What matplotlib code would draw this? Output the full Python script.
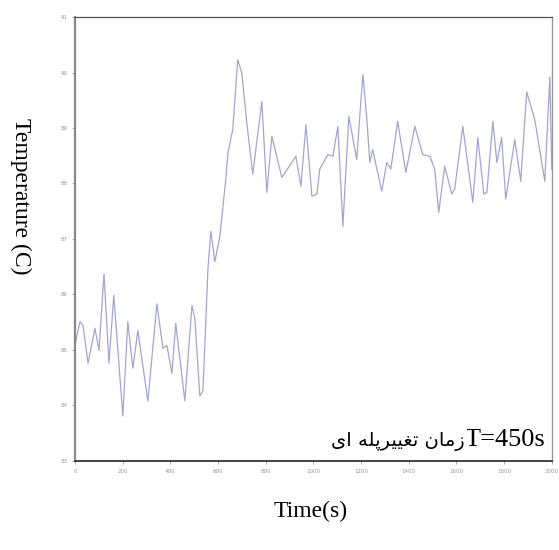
import matplotlib
matplotlib.use('Agg')
import matplotlib.pyplot as plt

# time (s) and temperature (C)
time_s = [0, 21, 34, 55, 84, 101, 122, 143, 163, 201, 222, 243, 264, 306, 344, 369,
          386, 407, 423, 461, 491, 503, 524, 537, 558, 570, 587, 608, 633, 642, 662,
          683, 700, 721, 746, 784, 805, 826, 868, 927, 948, 969, 994, 1015, 1027,
          1061, 1082, 1103, 1124, 1149, 1182, 1199, 1208, 1224, 1237, 1249, 1287,
          1308, 1325, 1354, 1388, 1426, 1459, 1489, 1509, 1526, 1551, 1581, 1593,
          1627, 1669, 1690, 1715, 1728, 1753, 1770, 1790, 1807, 1845, 1870, 1895,
          1929, 1971, 1992, 2000]
temp_c = [85.08, 85.51, 85.44, 84.76, 85.39, 84.99, 86.37, 84.76, 85.98, 83.81,
          85.51, 84.67, 85.35, 84.08, 85.83, 85.03, 85.08, 84.58, 85.48, 84.08,
          85.80, 85.57, 84.17, 84.26, 86.46, 87.14, 86.59, 87.05, 88.08, 88.56,
          88.97, 90.23, 89.99, 89.09, 88.17, 89.48, 87.84, 88.85, 88.11, 88.49,
          87.95, 89.06, 87.77, 87.81, 88.26, 88.52, 88.49, 89.03, 87.23, 89.21,
          88.43, 89.46, 89.96, 89.19, 88.38, 88.61, 87.86, 88.38, 88.26, 89.12,
          88.20, 89.03, 88.52, 88.49, 88.26, 87.48, 88.31, 87.81, 87.90, 89.03,
          87.66, 88.83, 87.81, 87.84, 89.12, 88.38, 88.83, 87.72, 88.79, 88.04,
          89.65, 89.15, 88.04, 89.92, 88.26]

x_ticks = list(range(0, 2001, 200))
y_ticks = list(range(83, 92))

# Persian note "زمان تغییرپله ای", in visual order with Arabic presentation forms
note_fa = ('\uFEEF\uFE8D \uFEEA\uFEE0\uFB58\uFEAE\uFEF4\uFEF4\uFED0\uFE97 '
           '\uFEE5\uFE8E\uFEE3\uFEAF')
note_t = 'T=450s'

fig = plt.figure(figsize=(5.59, 5.5), dpi=100)
ax = fig.add_axes([0.134, 0.162, 0.853, 0.807])

ax.plot(time_s, temp_c, color='#a4a4d2', lw=0.9)

ax.set_xlim(0, 2000)
ax.set_ylim(83, 91)
ax.set_xticks(x_ticks)
ax.set_yticks(y_ticks)
ax.tick_params(labelsize=4, colors='#999999', length=2, width=0.6)

ax.spines['left'].set_color('#888888')
ax.spines['left'].set_linewidth(1.6)
ax.spines['bottom'].set_color('#333333')
ax.spines['bottom'].set_linewidth(1.3)
ax.spines['top'].set_color('#555555')
ax.spines['top'].set_linewidth(0.9)
ax.spines['right'].set_color('#999999')
ax.spines['right'].set_linewidth(1.0)

serif = ['Liberation Serif', 'DejaVu Serif']
fig.text(0.555, 0.07, 'Time(s)', family=serif, fontsize=17, ha='center', va='center')
fig.text(0.036, 0.643, 'Temperature (C)', family=serif, fontsize=17,
         rotation=-90, ha='center', va='center')

t_lbl = ax.text(0.986, 0.022, note_t, transform=ax.transAxes, ha='right', va='bottom',
                family=serif, fontsize=19,
                bbox=dict(facecolor='white', edgecolor='none', pad=2))
ax.annotate(note_fa, xy=(0, 0), xycoords=t_lbl, ha='right', va='bottom',
            family=['DejaVu Sans'], fontsize=14,
            bbox=dict(facecolor='white', edgecolor='none', pad=2))

fig.savefig('out.png', dpi=100)
